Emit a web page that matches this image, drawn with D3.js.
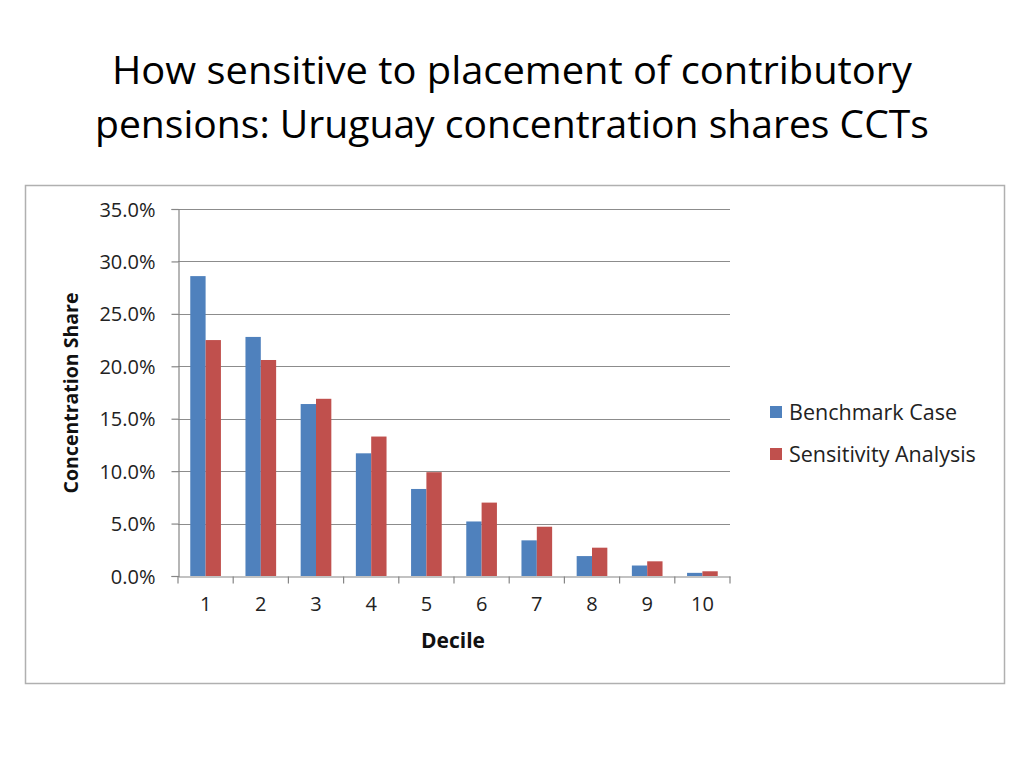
<!DOCTYPE html>
<html>
<head>
<meta charset="utf-8">
<script src="https://cdn.jsdelivr.net/npm/d3@7"></script>
<style>
  body { margin: 0; background: #fff; }
  svg { display: block; }
</style>
</head>
<body>
<script>
// data
var deciles = ["1","2","3","4","5","6","7","8","9","10"];
var seriesNames = ["Benchmark Case", "Sensitivity Analysis"];
var benchmark = [28.6, 22.8, 16.4, 11.7, 8.3, 5.2, 3.4, 1.9, 1.0, 0.3];
var sensitivity = [22.5, 20.6, 16.9, 13.3, 9.9, 7.0, 4.7, 2.7, 1.4, 0.45];
var yTicks = [0, 5, 10, 15, 20, 25, 30, 35];
var colors = ["#4F81BD", "#C0504D"];

var width = 1024, height = 768;
var svg = d3.select("body").append("svg")
  .attr("width", width)
  .attr("height", height);

// TITLE
var titleLines = ["How sensitive to placement of contributory",
                  "pensions: Uruguay concentration shares CCTs"];
svg.append("g").selectAll("text")
  .data(titleLines)
  .enter().append("text")
  .attr("x", 512)
  .attr("y", function(d,i){ return 84 + i*54; })
  .attr("text-anchor", "middle")
  .attr("font-family", "Open Sans, sans-serif")
  .attr("font-size", 38)
  .attr("fill", "#000")
  .attr("textLength", function(d,i){ return i==0 ? 800 : 834; })
  .attr("lengthAdjust", "spacingAndGlyphs")
  .text(function(d){ return d; });

// chart frame
svg.append("rect")
  .attr("x", 25.5).attr("y", 185.5)
  .attr("width", 979).attr("height", 498)
  .attr("fill", "#fff")
  .attr("stroke", "#b0b0b0")
  .attr("stroke-width", 1.5);

var plot = {left: 178, right: 730, top: 209, bottom: 576};
var g = svg.append("g");

var x = d3.scaleBand().domain(deciles).range([plot.left, plot.right]);
var x1 = d3.scaleBand().domain(seriesNames)
  .range([0, x.bandwidth()]).paddingOuter(0.8);
var y = d3.scaleLinear().domain([0, 35]).range([plot.bottom, plot.top]);

// gridlines
g.append("g").selectAll("line")
  .data(yTicks.slice(1))
  .enter().append("line")
  .attr("x1", plot.left).attr("x2", plot.right)
  .attr("y1", function(d){ return Math.round(y(d)) + 0.5; })
  .attr("y2", function(d){ return Math.round(y(d)) + 0.5; })
  .attr("stroke", "#8c8c8c")
  .attr("stroke-width", 1.2);

// bars
var rows = deciles.map(function(d,i){ return [benchmark[i], sensitivity[i]]; });
var groups = g.append("g").selectAll("g")
  .data(rows)
  .enter().append("g")
  .attr("transform", function(d,i){ return "translate(" + x(deciles[i]) + ",0)"; });
groups.selectAll("rect")
  .data(function(d){ return d; })
  .enter().append("rect")
  .attr("x", function(d,i){ return x1(seriesNames[i]); })
  .attr("width", x1.bandwidth())
  .attr("y", function(d){ return y(d); })
  .attr("height", function(d){ return y(0) - y(d); })
  .attr("fill", function(d,i){ return colors[i]; });

// y axis
var yAxis = d3.axisLeft(y)
  .tickValues(yTicks)
  .tickSize(7)
  .tickPadding(16)
  .tickFormat(function(d){ return d3.format(".1f")(d) + "%"; });
var ya = g.append("g")
  .attr("transform", "translate(" + (plot.left + 0.5) + ",0)")
  .call(yAxis);

// x axis
var xAxis = d3.axisBottom(x).tickSize(0).tickPadding(20);
var xa = g.append("g")
  .attr("transform", "translate(0," + (plot.bottom + 0.5) + ")")
  .call(xAxis);
// ticks between categories
xa.selectAll(".sep")
  .data(d3.range(deciles.length + 1))
  .enter().append("line")
  .attr("class", "sep")
  .attr("x1", function(i){ return plot.left + i*x.bandwidth(); })
  .attr("x2", function(i){ return plot.left + i*x.bandwidth(); })
  .attr("y1", 0).attr("y2", 7)
  .attr("stroke", "#868686")
  .attr("stroke-width", 1.2);

[ya, xa].forEach(function(a){
  a.selectAll(".domain").attr("stroke", "#868686").attr("stroke-width", 1.2);
  a.selectAll(".tick line").attr("stroke", "#868686").attr("stroke-width", 1.2);
  a.selectAll(".tick text")
    .attr("font-family", "Open Sans, sans-serif")
    .attr("font-size", 20)
    .attr("fill", "#222");
});
ya.selectAll(".tick text").attr("dy", "0.35em");

// axis titles
svg.append("text")
  .attr("transform", "translate(78,393) rotate(-90)")
  .attr("text-anchor", "middle")
  .attr("font-family", "Open Sans, sans-serif")
  .attr("font-weight", "bold")
  .attr("font-size", 19.5)
  .attr("fill", "#111")
  .text("Concentration Share");

svg.append("text")
  .attr("x", 453).attr("y", 648)
  .attr("text-anchor", "middle")
  .attr("font-family", "Open Sans, sans-serif")
  .attr("font-weight", "bold")
  .attr("font-size", 21)
  .attr("fill", "#111")
  .text("Decile");

// legend
var legend = svg.append("g").selectAll("g")
  .data(seriesNames)
  .enter().append("g")
  .attr("transform", function(d,i){ return "translate(770," + (412 + i*42) + ")"; });
legend.append("rect")
  .attr("x", 0).attr("y", -6)
  .attr("width", 12).attr("height", 12)
  .attr("fill", function(d,i){ return colors[i]; });
legend.append("text")
  .attr("x", 19).attr("y", 0)
  .attr("dy", "0.35em")
  .attr("font-family", "Open Sans, sans-serif")
  .attr("font-size", 21.5)
  .attr("fill", "#222")
  .text(function(d){ return d; });
</script>
</body>
</html>
